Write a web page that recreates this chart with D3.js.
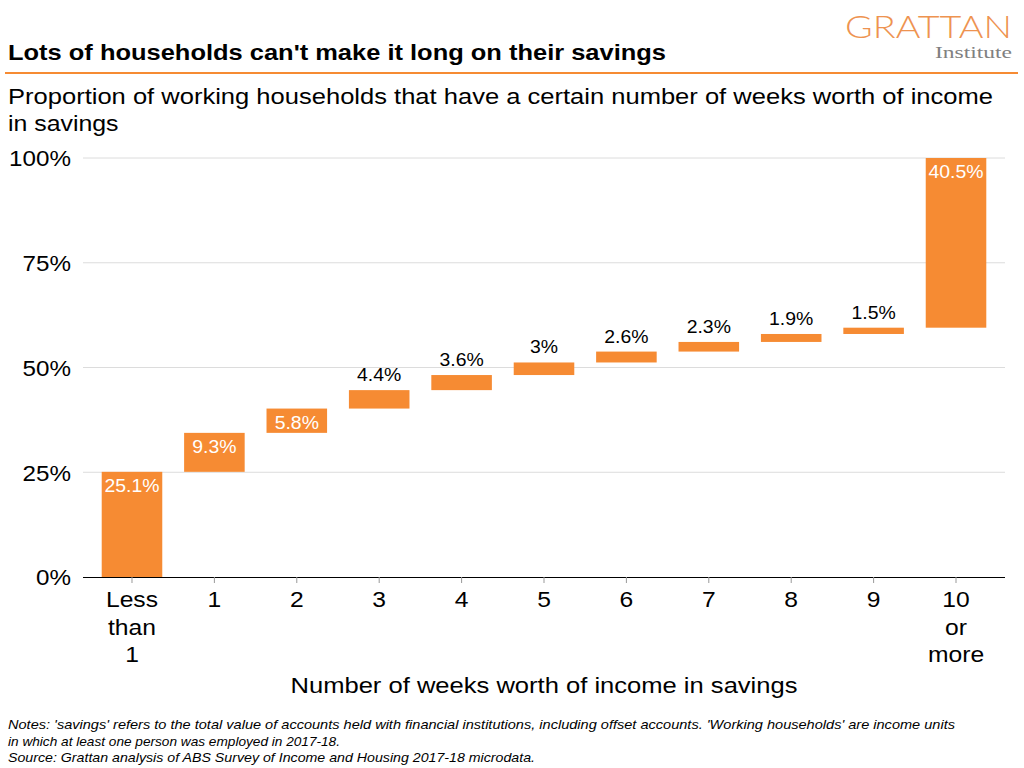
<!DOCTYPE html>
<html>
<head>
<meta charset="utf-8">
<script src="https://cdn.jsdelivr.net/npm/d3@7"></script>
<style>
  html, body { margin: 0; padding: 0; background: #fff; }
  svg { display: block; font-family: "Liberation Sans", Arial, Helvetica, sans-serif; }
</style>
</head>
<body>
<svg id="chart" width="1024" height="768"></svg>
<script>
const categories = ["Less than 1", "1", "2", "3", "4", "5", "6", "7", "8", "9", "10 or more"];
const categoryLines = [["Less", "than", "1"], ["1"], ["2"], ["3"], ["4"], ["5"], ["6"], ["7"], ["8"], ["9"], ["10", "or", "more"]];
const values = [25.1, 9.3, 5.8, 4.4, 3.6, 3, 2.6, 2.3, 1.9, 1.5, 40.5];
const valueLabels = ["25.1%", "9.3%", "5.8%", "4.4%", "3.6%", "3%", "2.6%", "2.3%", "1.9%", "1.5%", "40.5%"];
const insideLabel = [true, true, true, false, false, false, false, false, false, false, true];
const yTicks = [0, 25, 50, 75, 100];
const yTickLabels = ["0%", "25%", "50%", "75%", "100%"];

const title = "Lots of households can't make it long on their savings";
const subtitleLines = ["Proportion of working households that have a certain number of weeks worth of income", "in savings"];
const xTitle = "Number of weeks worth of income in savings";
const notes = [
  "Notes: 'savings' refers to the total value of accounts held with financial institutions, including offset accounts. 'Working households' are income units",
  "in which at least one person was employed in 2017-18.",
  "Source: Grattan analysis of ABS Survey of Income and Housing 2017-18 microdata."
];

const orange = "#F68B33";
const svg = d3.select("#chart");

// widen text horizontally (reference font is wider than the installed one)
function widen(sel, factor) {
  sel.each(function() {
    const w = this.getComputedTextLength();
    d3.select(this).attr("textLength", w * factor).attr("lengthAdjust", "spacingAndGlyphs");
  });
}

// waterfall cumulative
let cum = 0;
const data = categories.map((c, i) => {
  const start = cum;
  cum += values[i];
  return { cat: c, start: start, end: cum, value: values[i], label: valueLabels[i], inside: insideLabel[i], lines: categoryLines[i] };
});

const plotL = 83, plotR = 1005, plotT = 158, plotB = 577;
const x = d3.scaleBand().domain(categories).range([plotL, plotR]).paddingInner(0.265).paddingOuter(0.227);
const y = d3.scaleLinear().domain([0, 100]).range([plotB, plotT]);

// Header
svg.append("text").attr("x", 8).attr("y", 60).attr("font-size", 21.5).attr("font-weight", "bold").attr("fill", "#000")
  .attr("textLength", 658).attr("lengthAdjust", "spacingAndGlyphs").text(title);
svg.append("line").attr("x1", 5).attr("x2", 1018).attr("y1", 73).attr("y2", 73).attr("stroke", orange).attr("stroke-width", 2);

// Logo
svg.append("text").attr("x", 845).attr("y", 38)
  .attr("font-family", "Lato, 'Open Sans', sans-serif").attr("font-weight", 300)
  .attr("font-size", 31.5).attr("fill", "#EE9350")
  .attr("textLength", 167).attr("lengthAdjust", "spacingAndGlyphs").text("GRATTAN");
svg.append("text").attr("x", 935).attr("y", 58)
  .attr("font-family", "'Liberation Serif', 'DejaVu Serif', serif")
  .attr("font-size", 16.5).attr("fill", "#808080")
  .attr("textLength", 77).attr("lengthAdjust", "spacingAndGlyphs").text("Institute");

// Subtitle
const subLengths = [985, null];
const sub = svg.append("g").selectAll("text").data(subtitleLines).join("text")
  .attr("x", 8).attr("y", (d, i) => 104 + i * 27).attr("font-size", 22).attr("fill", "#000").text(d => d);
sub.each(function(d, i) {
  const w = subLengths[i] || this.getComputedTextLength() * 1.13;
  d3.select(this).attr("textLength", w).attr("lengthAdjust", "spacingAndGlyphs");
});

// Gridlines
const grid = svg.append("g");
grid.selectAll("line").data(yTicks.filter(t => t > 0)).join("line")
  .attr("x1", plotL).attr("x2", plotR).attr("y1", d => y(d)).attr("y2", d => y(d))
  .attr("stroke", "#dcdcdc").attr("stroke-width", 1);

// Y axis
const yAxis = d3.axisLeft(y).tickValues(yTicks).tickFormat((d, i) => yTickLabels[i]).tickSize(0).tickPadding(12);
const yg = svg.append("g").attr("transform", `translate(${plotL},0)`).call(yAxis);
yg.select(".domain").remove();
yg.selectAll("text").attr("font-size", 22).attr("fill", "#000").attr("font-family", "'Liberation Sans', Arial, sans-serif").attr("dy", "0.36em");
widen(yg.selectAll("text"), 1.1);

// Bars
svg.append("g").selectAll("rect").data(data).join("rect")
  .attr("x", d => x(d.cat)).attr("width", x.bandwidth())
  .attr("y", d => y(d.end)).attr("height", d => y(d.start) - y(d.end))
  .attr("fill", orange);

// Value labels
const vl = svg.append("g").selectAll("text").data(data).join("text")
  .attr("x", d => x(d.cat) + x.bandwidth() / 2)
  .attr("y", d => d.inside ? y(d.end) + 20 : y(d.end) - 9)
  .attr("text-anchor", "middle").attr("font-size", 18.5)
  .attr("fill", d => d.inside ? "#fff" : "#000")
  .text(d => d.label);
widen(vl, 1.05);

// X axis
const xAxis = d3.axisBottom(x).tickSize(6).tickFormat("");
const xg = svg.append("g").attr("transform", `translate(0,${plotB})`).call(xAxis);
xg.select(".domain").attr("d", `M${plotL},0.5H${plotR}`).attr("stroke", "#000").attr("stroke-width", 1.2);
xg.selectAll(".tick line").attr("stroke", "#999");
xg.selectAll(".tick").each(function(c, i) {
  const g = d3.select(this);
  g.selectAll("text.lbl").data(data[i].lines).join("text").attr("class", "lbl")
    .attr("x", 0).attr("y", (d, j) => 30 + j * 27.5)
    .attr("text-anchor", "middle").attr("font-size", 22).attr("fill", "#000")
    .attr("font-family", "'Liberation Sans', Arial, sans-serif").text(d => d);
});
widen(xg.selectAll("text.lbl"), 1.12);

// X title
svg.append("text").attr("x", (plotL + plotR) / 2).attr("y", 693).attr("text-anchor", "middle")
  .attr("font-size", 22.5).attr("fill", "#000")
  .attr("textLength", 507).attr("lengthAdjust", "spacingAndGlyphs").text(xTitle);

// Notes
const noteLengths = [947, 332, 527];
svg.append("g").selectAll("text").data(notes).join("text")
  .attr("x", 8).attr("y", (d, i) => 729 + i * 16.5)
  .attr("font-size", 13).attr("font-style", "italic").attr("fill", "#000")
  .attr("textLength", (d, i) => noteLengths[i]).attr("lengthAdjust", "spacingAndGlyphs")
  .text(d => d);
</script>
</body>
</html>
